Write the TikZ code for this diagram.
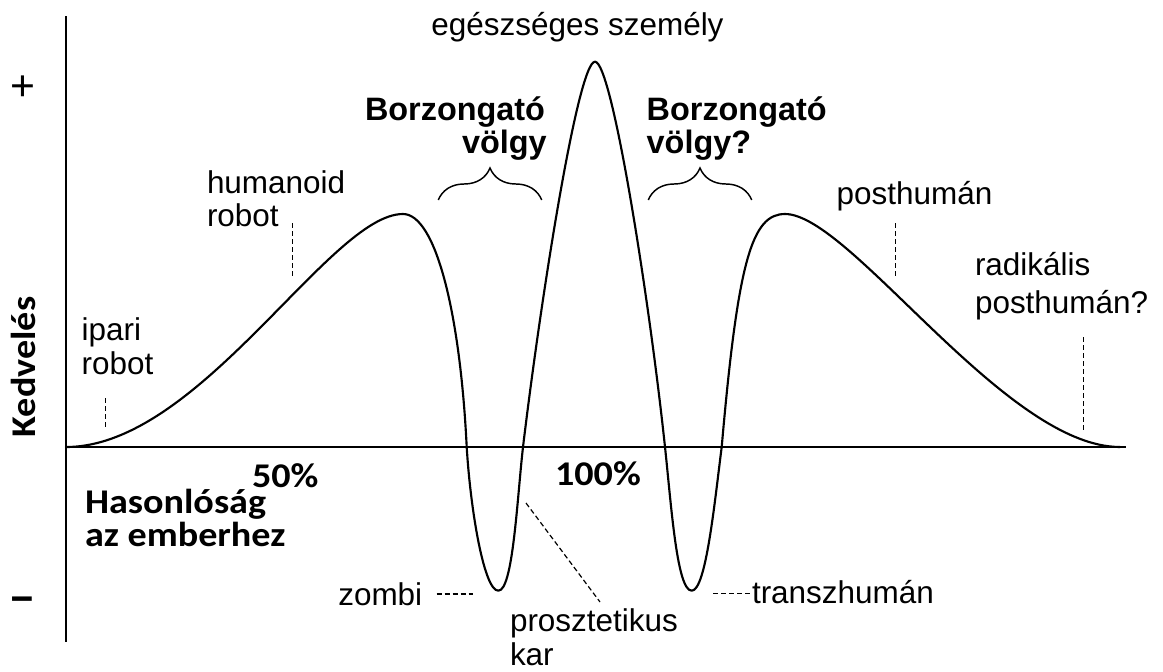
\documentclass[tikz,border=0pt]{standalone}
\usepackage{fontspec}
\setmainfont{Liberation Sans}
\newfontfamily\calfont{Carlito}[FakeStretch=1.1]
\usetikzlibrary{decorations.pathreplacing}
\begin{document}
\begin{tikzpicture}[x=0.75pt,y=-0.75pt,
  lbl/.style={inner sep=0pt, outer sep=0pt, font=\fontsize{23.6}{28}\selectfont, anchor=base west},
  boldlbl/.style={inner sep=0pt, outer sep=0pt, font=\fontsize{24.3}{29}\selectfont\bfseries, anchor=base west},
  cal/.style={inner sep=0pt, outer sep=0pt, font=\calfont\bfseries\fontsize{26}{31}\selectfont, anchor=base west},
  curvestyle/.style={line width=1.6pt, line join=round, line cap=round},
  axisstyle/.style={line width=1.5pt},
  marker/.style={line width=0.9pt, dash pattern=on 3.75pt off 2.25pt},
  bracestyle/.style={line width=1.1pt, decorate, decoration={brace, amplitude=24pt}}]

\useasboundingbox (0,0) rectangle (1163,671);

% axes
\coordinate (ytop) at (66,16);
\coordinate (ybot) at (66,642);
\coordinate (O) at (66,447);
\coordinate (xend) at (1126,447);
\draw[axisstyle] (ytop) -- (ybot);
\draw[axisstyle] (O) -- (xend);

% curve key points
\coordinate (c0) at (66,447);
\coordinate (pk1) at (403,214);
\coordinate (x1) at (466.7,447);
\coordinate (m1) at (498.3,590.7);
\coordinate (x2) at (523,447);
\coordinate (pk2) at (595,61.7);
\coordinate (x3) at (665,447);
\coordinate (m2) at (691.7,590.7);
\coordinate (x4) at (721.7,447);
\coordinate (pk3) at (785,214);
\coordinate (c9) at (1120,447);

\draw[curvestyle] (c0)
  .. controls (200,447) and (330,214) .. (pk1)
  .. controls (435,214) and (460,310) .. (x1)
  .. controls (470.5,510) and (484,590.7) .. (m1)
  .. controls (513,590.7) and (517,500) .. (x2)
  .. controls (541,297) and (578,61.7) .. (pk2)
  .. controls (612,61.7) and (649,297) .. (x3)
  .. controls (671.4,507) and (677,590.7) .. (m2)
  .. controls (706,590.7) and (714.6,502) .. (x4)
  .. controls (738,260) and (752,214) .. (pk3)
  .. controls (850,214) and (1005,447) .. (c9);

% braces
\coordinate (bl1) at (438.3,200);
\coordinate (bl2) at (541.7,200);
\coordinate (br1) at (648.3,200);
\coordinate (br2) at (751.7,200);
\draw[bracestyle] (bl1) -- (bl2);
\draw[bracestyle] (br1) -- (br2);

% marker lines
\coordinate (ipA) at (105.7,398);  \coordinate (ipB) at (105.7,428);
\coordinate (huA) at (292.7,223);  \coordinate (huB) at (292.7,277);
\coordinate (poA) at (895.7,223);  \coordinate (poB) at (895.7,277);
\coordinate (raA) at (1083.3,337); \coordinate (raB) at (1083.3,430);
\coordinate (zoA) at (436.7,594);  \coordinate (zoB) at (473.3,594);
\coordinate (trA) at (713.3,593.5);\coordinate (trB) at (751,593.5);
\coordinate (prA) at (526,503);    \coordinate (prB) at (600,602);
\draw[marker] (ipA) -- (ipB);
\draw[marker] (huA) -- (huB);
\draw[marker] (poA) -- (poB);
\draw[marker] (raA) -- (raB);
\draw[marker] (zoA) -- (zoB);
\draw[marker] (trA) -- (trB);
\draw[marker] (prA) -- (prB);

% labels
\node[lbl] (hum1) at (207,193.3) {humanoid};
\node[lbl] (hum2) at (207,226) {robot};
\node[lbl] (ip1) at (81.7,340) {ipari};
\node[lbl] (ip2) at (81.7,374) {robot};
\node[lbl] (post) at (836.7,204) {posthumán};
\node[lbl] (rad1) at (975,275) {radikális};
\node[lbl] (rad2) at (975,313) {posthumán?};
\node[lbl] (zomb) at (338.3,605) {zombi};
\node[lbl] (trans) at (752,603.5) {transzhumán};
\node[lbl] (pro1) at (510,631.7) {prosztetikus};
\node[lbl] (pro2) at (510,665) {kar};
\node[lbl, anchor=base] (ege) at (577.5,35) {egészséges személy};

\node[boldlbl, anchor=base east] (b1) at (545,120) {Borzongató};
\node[boldlbl, anchor=base east] (v1) at (546.7,153.3) {völgy};
\node[boldlbl] (b2) at (646.7,120) {Borzongató};
\node[boldlbl] (v2) at (646.7,153.3) {völgy?};

\node[cal] (has1) at (85,513.3) {Hasonlóság};
\node[cal] (has2) at (85,546.7) {az emberhez};
\node[cal] (p50) at (252,487.5) {50\%};
\node[cal] (p100) at (555,485) {100\%};
\node[cal, rotate=90, anchor=base] (ked) at (36,367) {Kedvelés};

\node[lbl, anchor=center, font=\fontsize{32}{36}\selectfont] (plus) at (23.3,88.3) {+};
\node[cal, anchor=center, font=\calfont\bfseries\fontsize{38}{40}\selectfont] (minus) at (22.5,605) {–};
\end{tikzpicture}
\end{document}
